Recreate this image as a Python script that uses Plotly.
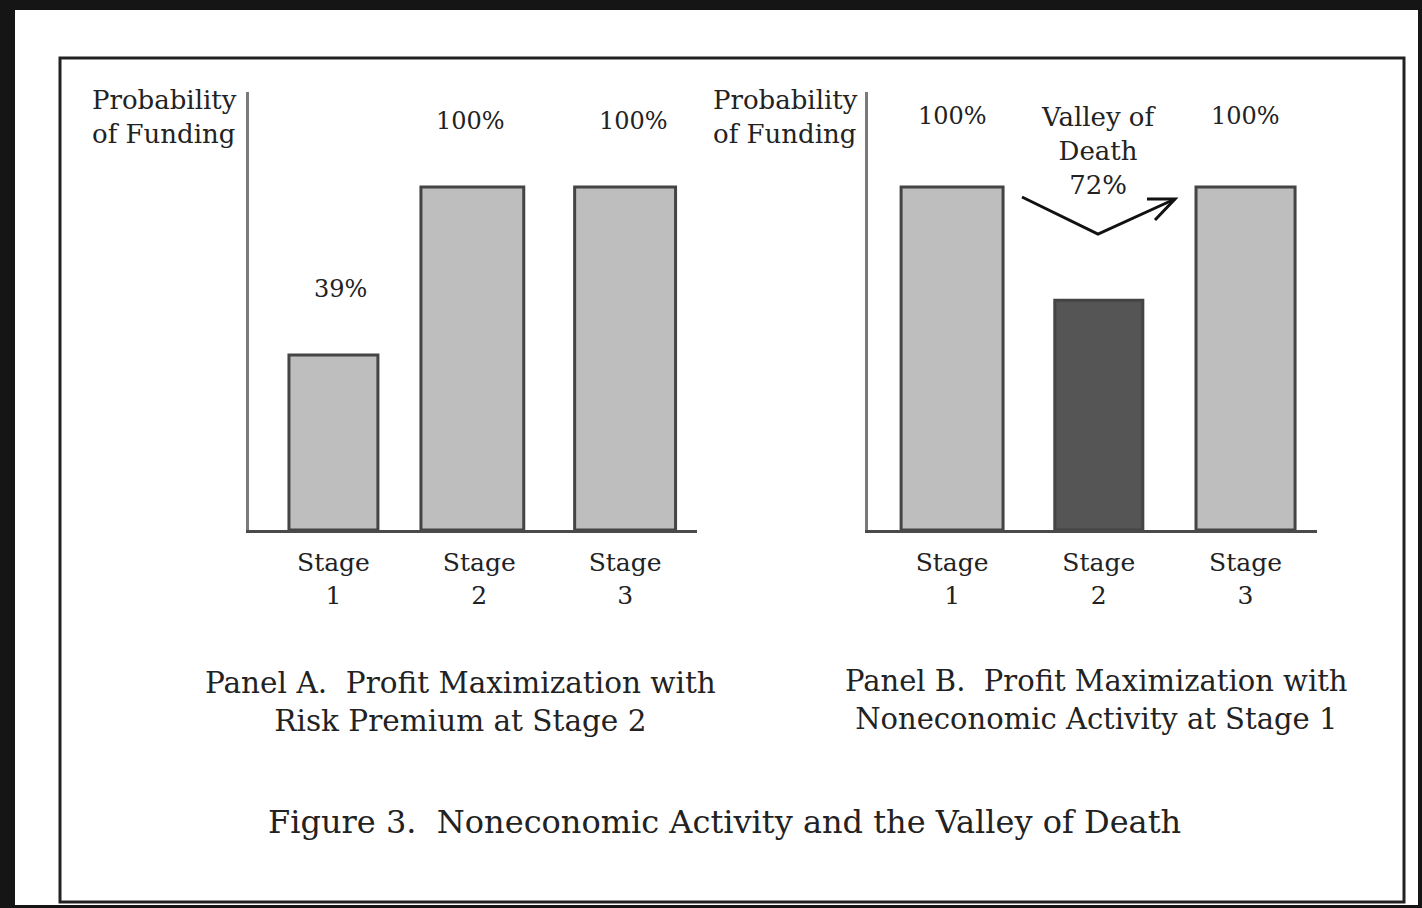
import plotly.graph_objects as go

W, H = 1422, 908

stages = ["Stage<br>1", "Stage<br>2", "Stage<br>3"]
# bar heights as drawn (schematic, not to scale with the printed labels)
panel_a_heights = [51, 100, 100]
panel_a_labels = ["39%", "100%", "100%"]
panel_b_heights = [100, 67, 100]
panel_b_labels = ["100%", "Valley of<br>Death<br>72%", "100%"]
panel_b_colors = ["#bebebe", "#555555", "#bebebe"]

y_title = "Probability<br>of Funding"
panel_a_title = "Panel A.  Profit Maximization with<br>Risk Premium at Stage 2"
panel_b_title = "Panel B.  Profit Maximization with<br>Noneconomic Activity at Stage 1"
fig_title = "Figure 3.  Noneconomic Activity and the Valley of Death"

FONT = "DejaVu Serif"
TXT = "#222222"


def px_x(x):
    return x / W


def px_y(y):
    return 1 - y / H


fig = go.Figure()

# panel A bars are hand-drawn a bit unevenly in the original
fig.add_trace(go.Bar(
    x=stages, y=panel_a_heights,
    width=[0.61, 0.705, 0.692], offset=[-0.305, -0.40, -0.346],
    marker=dict(color="#bebebe", line=dict(color="#444444", width=3)),
    xaxis="x", yaxis="y", showlegend=False, hoverinfo="skip"
))
fig.add_trace(go.Bar(
    x=stages, y=panel_b_heights, width=[0.695, 0.60, 0.675],
    marker=dict(color=panel_b_colors, line=dict(color="#444444", width=3)),
    xaxis="x2", yaxis="y2", showlegend=False, hoverinfo="skip"
))

x_common = dict(showgrid=False, zeroline=False, showline=True, ticks="",
                linecolor="#4a4a4a", linewidth=3, fixedrange=True,
                ticklabelstandoff=8,
                tickfont=dict(size=25, family=FONT, color=TXT))
y_common = dict(showgrid=False, zeroline=False, showline=True, ticks="",
                linecolor="#7a7a7a", linewidth=3, fixedrange=True,
                showticklabels=False, range=[0, 127.7],
                domain=[px_y(530), px_y(92)])

fig.update_layout(
    width=W, height=H,
    margin=dict(l=0, r=0, t=0, b=0),
    paper_bgcolor="#151515",
    plot_bgcolor="rgba(0,0,0,0)",
    font=dict(family=FONT, color=TXT),
    xaxis=dict(domain=[px_x(249), px_x(697)], range=[-0.579, 2.493], **x_common),
    yaxis=dict(**y_common),
    xaxis2=dict(domain=[px_x(868), px_x(1317)], range=[-0.573, 2.487], anchor="y2", **x_common),
    yaxis2=dict(anchor="x2", **y_common),
)

# white page and frame
fig.add_shape(type="rect", xref="paper", yref="paper", layer="below",
              x0=px_x(15), x1=px_x(1418), y0=px_y(905), y1=px_y(10),
              fillcolor="white", line=dict(width=0))
fig.add_shape(type="rect", xref="paper", yref="paper", layer="below",
              x0=px_x(60), x1=px_x(1404), y0=px_y(902), y1=px_y(58),
              fillcolor="rgba(0,0,0,0)", line=dict(color="#222222", width=3))

# value labels
a_xshift = [7, -9, 8]
for i, lab in enumerate(panel_a_labels):
    fig.add_annotation(x=stages[i], y=panel_a_heights[i], xref="x", yref="y",
                       text=lab, showarrow=False, yanchor="middle", yshift=66,
                       xshift=a_xshift[i],
                       font=dict(size=24, family=FONT, color=TXT))
for i, lab in enumerate(panel_b_labels):
    if i == 1:
        shift, size = 149, 26
    else:
        shift, size = 71, 24
    fig.add_annotation(x=stages[i], y=panel_b_heights[i], xref="x2", yref="y2",
                       text=lab, showarrow=False, yanchor="middle", yshift=shift,
                       font=dict(size=size, family=FONT, color=TXT))

# valley arrow
fig.add_shape(type="path", xref="paper", yref="paper",
              path=f"M {px_x(1022)},{px_y(197)} L {px_x(1098)},{px_y(234)} L {px_x(1175)},{px_y(199)}",
              line=dict(color="#111111", width=3))
fig.add_shape(type="path", xref="paper", yref="paper",
              path=f"M {px_x(1147)},{px_y(199)} L {px_x(1175)},{px_y(199)} L {px_x(1155)},{px_y(220)}",
              line=dict(color="#111111", width=3))

# axis titles
for x0 in (90, 711):
    fig.add_annotation(x=px_x(x0), y=px_y(83), xref="paper", yref="paper",
                       text=y_title, showarrow=False, xanchor="left", yanchor="top",
                       align="left", font=dict(size=26, family=FONT, color=TXT))

# panel titles
fig.add_annotation(x=px_x(460), y=px_y(702), xref="paper", yref="paper",
                   text=panel_a_title, showarrow=False, align="center",
                   xanchor="center", yanchor="middle",
                   font=dict(size=29.5, family=FONT, color=TXT))
fig.add_annotation(x=px_x(1096), y=px_y(700), xref="paper", yref="paper",
                   text=panel_b_title, showarrow=False, align="center",
                   xanchor="center", yanchor="middle",
                   font=dict(size=29, family=FONT, color=TXT))
fig.add_annotation(x=px_x(724), y=px_y(822), xref="paper", yref="paper",
                   text=fig_title, showarrow=False,
                   xanchor="center", yanchor="middle",
                   font=dict(size=32, family=FONT, color=TXT))

fig.write_html("out.html", config={"displayModeBar": False},
               post_script="document.body.style.margin='0';")
